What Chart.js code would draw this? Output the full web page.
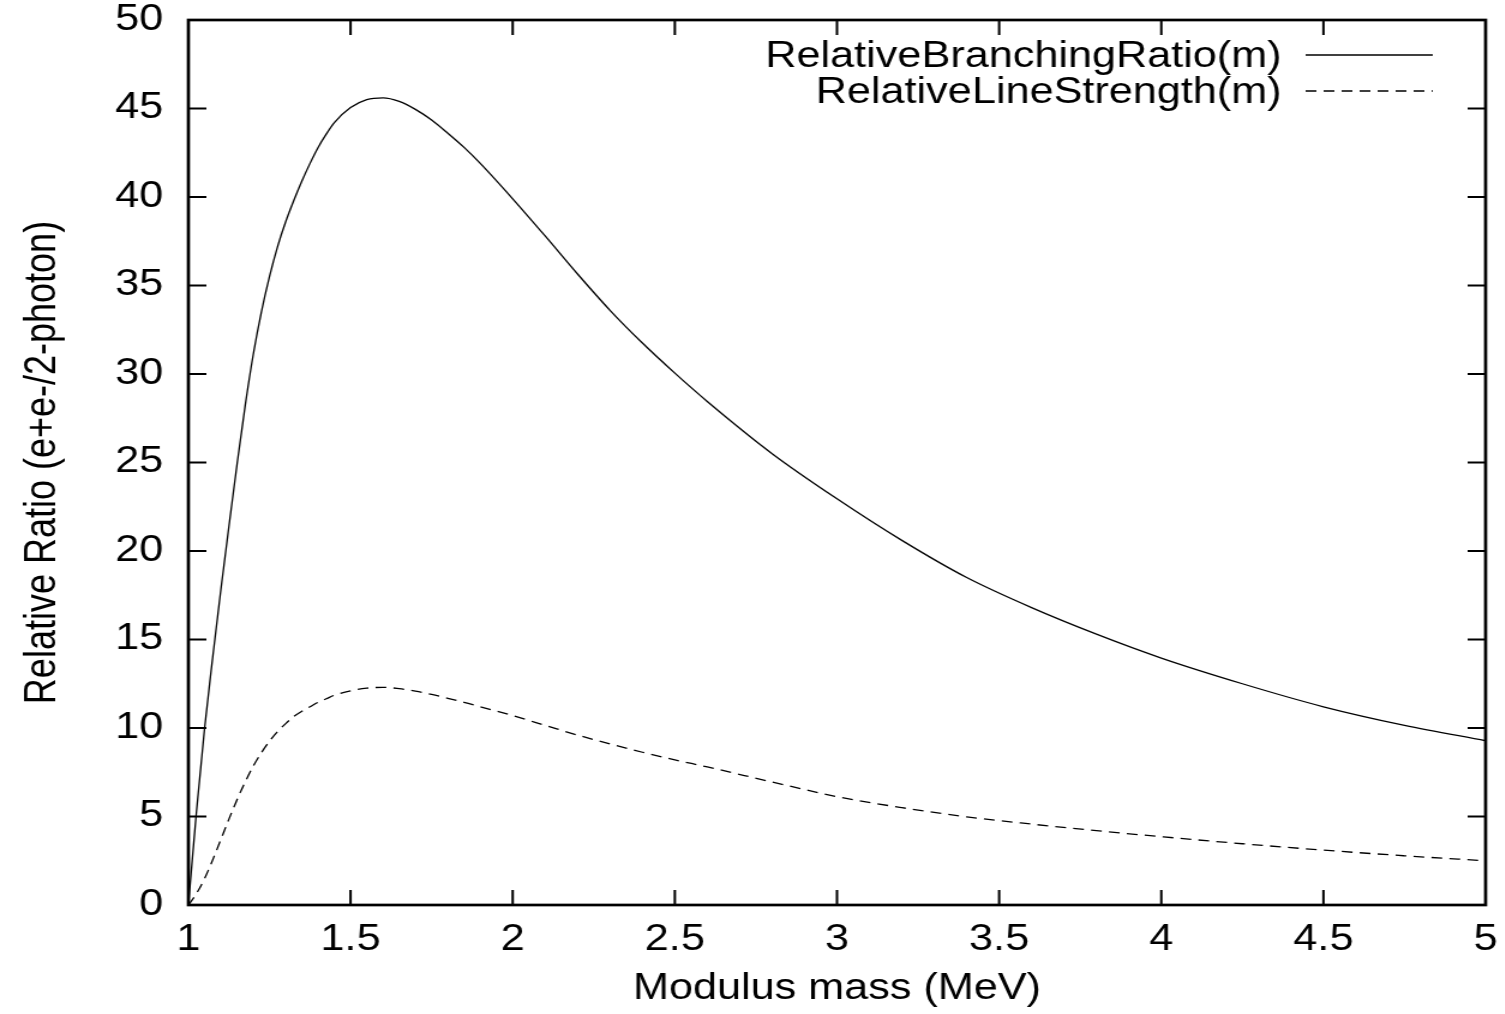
<!DOCTYPE html>
<html>
<head>
<meta charset="utf-8">
<script src="https://cdn.jsdelivr.net/npm/chart.js@4.4.1/dist/chart.umd.min.js"></script>
<style>
    html, body { margin: 0; padding: 0; background: #fff; overflow: hidden; }
    /* the original plot is stretched sideways, so draw narrow and stretch */
    #wrap { width: 1254px; height: 1014px; transform: scaleX(1.2); transform-origin: 0 0; }
</style>
</head>
<body>
<div id="wrap"><canvas id="chart" width="1254" height="1014"></canvas></div>
<script>
// modulus mass in MeV
const massGrid = [
    1, 1.025, 1.05, 1.075, 1.1, 1.125, 1.15, 1.175, 1.2, 1.225,
    1.25, 1.275, 1.3, 1.325, 1.35, 1.375, 1.4, 1.425, 1.45, 1.5,
    1.55, 1.6, 1.65, 1.7, 1.75, 1.8, 1.85, 1.9, 2.0, 2.1,
    2.2, 2.3, 2.4, 2.5, 2.6, 2.8, 3.0, 3.2, 3.4, 3.6,
    3.8, 4.0, 4.25, 4.5, 4.75, 5.0
];

const branchingRatio = [
    0, 5.3, 10.0, 14.0, 17.8, 21.4, 24.9, 28.2, 31.1, 33.5,
    35.5, 37.2, 38.6, 39.8, 40.9, 41.9, 42.8, 43.55, 44.2, 45.05,
    45.5, 45.6, 45.4, 44.95, 44.35, 43.6, 42.8, 41.9, 39.9, 37.8,
    35.65, 33.6, 31.75, 30.05, 28.45, 25.5, 22.95, 20.6, 18.5, 16.8,
    15.3, 13.95, 12.5, 11.2, 10.15, 9.28
];

const lineStrength = [
    0, 0.65, 1.5, 2.55, 3.7, 4.85, 5.95, 6.95, 7.85, 8.6,
    9.25, 9.8, 10.25, 10.65, 10.95, 11.2, 11.45, 11.65, 11.85, 12.1,
    12.25, 12.3, 12.22, 12.08, 11.9, 11.68, 11.45, 11.2, 10.7, 10.15,
    9.6, 9.1, 8.63, 8.2, 7.8, 6.95, 6.12, 5.5, 4.98, 4.57,
    4.2, 3.86, 3.46, 3.1, 2.78, 2.5
];

const seriesNames = ['RelativeBranchingRatio(m)', 'RelativeLineStrength(m)'];
const xTitle = 'Modulus mass (MeV)';
const yTitle = 'Relative Ratio (e+e-/2-photon)';

const FONT = { family: '"Liberation Sans", Arial, Helvetica, sans-serif', size: 36 };
const DASH = [9, 6];

function pts(ys) { return massGrid.map((m, i) => ({ x: m, y: ys[i] })); }

// gnuplot style frame: box round the plot, ticks pointing in on all four sides
const frameTicks = {
    id: 'frameTicks',
    afterDatasetsDraw(chart) {
        const { ctx, chartArea: a, scales: { x, y } } = chart;
        ctx.save();
        ctx.strokeStyle = '#000';
        ctx.lineWidth = 2;
        ctx.beginPath();
        x.ticks.forEach(t => {
            const px = x.getPixelForValue(t.value);
            ctx.moveTo(px, a.bottom); ctx.lineTo(px, a.bottom - 15);
            ctx.moveTo(px, a.top);    ctx.lineTo(px, a.top + 15);
        });
        y.ticks.forEach(t => {
            const py = y.getPixelForValue(t.value);
            ctx.moveTo(a.left, py);  ctx.lineTo(a.left + 15, py);
            ctx.moveTo(a.right, py); ctx.lineTo(a.right - 15, py);
        });
        ctx.stroke();
        ctx.lineWidth = 2.7;
        ctx.strokeRect(a.left, a.top, a.right - a.left, a.bottom - a.top);
        ctx.restore();
    }
};

// key in the top right corner: text first, sample line after it
const keyBox = {
    id: 'keyBox',
    afterDraw(chart) {
        const { ctx } = chart;
        ctx.save();
        ctx.font = `${FONT.size}px ${FONT.family}`;
        ctx.fillStyle = '#000';
        ctx.textAlign = 'right';
        ctx.textBaseline = 'middle';
        chart.data.datasets.forEach((ds, i) => {
            const yy = 57 + i * 36;
            ctx.fillText(ds.label, 1068, yy);
            ctx.beginPath();
            ctx.setLineDash(ds.borderDash || []);
            ctx.lineWidth = 1.3;
            ctx.strokeStyle = '#000';
            ctx.moveTo(1088, yy - 2);
            ctx.lineTo(1194, yy - 2);
            ctx.stroke();
        });
        ctx.restore();
    }
};

new Chart(document.getElementById('chart'), {
    type: 'line',
    data: {
        datasets: [
            {
                label: seriesNames[0],
                data: pts(branchingRatio),
                borderColor: '#000',
                borderWidth: 1.3,
                pointRadius: 0,
                cubicInterpolationMode: 'monotone'
            },
            {
                label: seriesNames[1],
                data: pts(lineStrength),
                borderColor: '#000',
                borderWidth: 1.3,
                borderDash: DASH,
                pointRadius: 0,
                cubicInterpolationMode: 'monotone'
            }
        ]
    },
    options: {
        responsive: false,
        animation: false,
        events: [],
        layout: { padding: { top: 20, right: 16, left: 0, bottom: 0 } },
        plugins: { legend: { display: false }, tooltip: { enabled: false } },
        scales: {
            x: {
                type: 'linear',
                min: 1,
                max: 5,
                grid: { display: false, drawTicks: false },
                border: { display: false },
                ticks: {
                    stepSize: 0.5, color: '#000', font: FONT, padding: 13, maxRotation: 0,
                    callback: v => String(+v.toFixed(1))
                },
                title: { display: true, text: xTitle, color: '#000', font: FONT, padding: { top: 0, bottom: 3 } },
                afterFit(s) { s.height = 109; s.paddingLeft = 0; s.paddingRight = 0; }
            },
            y: {
                min: 0,
                max: 50,
                grid: { display: false, drawTicks: false },
                border: { display: false },
                ticks: { stepSize: 5, color: '#000', font: FONT, padding: 21 },
                title: { display: true, text: yTitle, color: '#000', font: FONT, padding: { top: 14, bottom: 0 } },
                afterFit(s) { s.width = 157; s.paddingTop = 0; s.paddingBottom = 0; }
            }
        }
    },
    plugins: [frameTicks, keyBox]
});
</script>
</body>
</html>
